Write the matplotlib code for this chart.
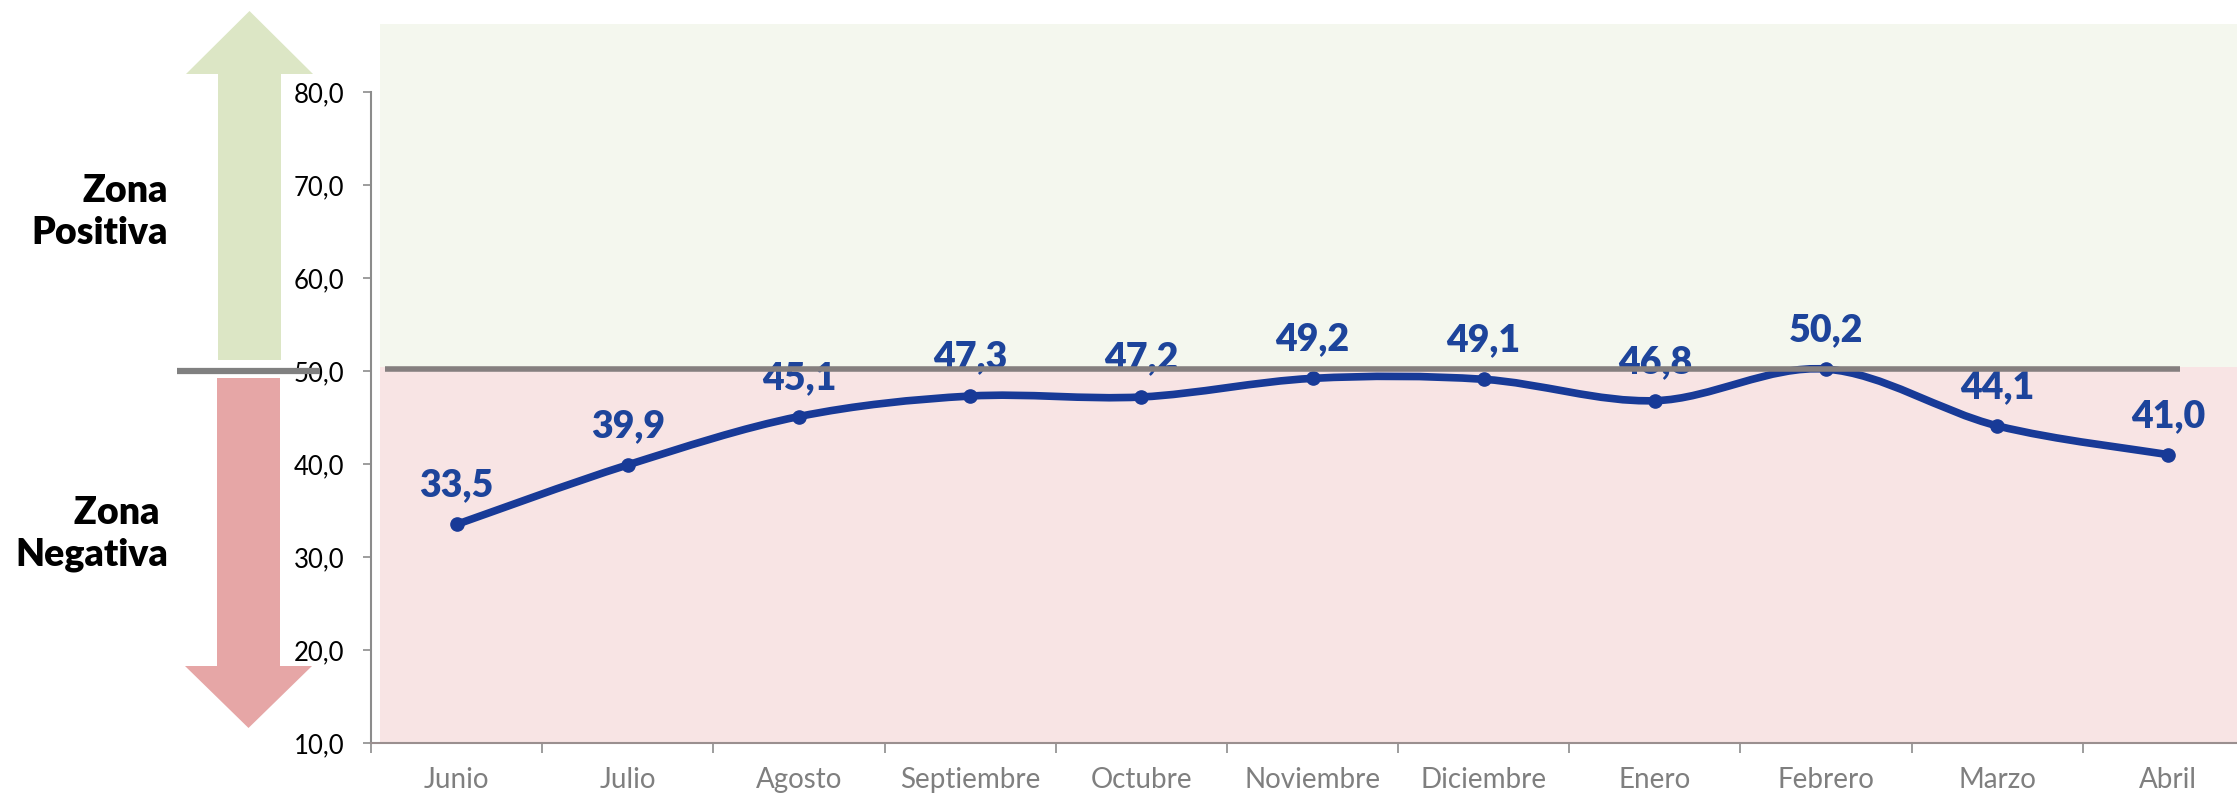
import numpy as np
import matplotlib
matplotlib.use("Agg")
import matplotlib.pyplot as plt
from matplotlib.path import Path
from matplotlib.patches import PathPatch, Polygon, Rectangle

# monthly index values
months = ["Junio", "Julio", "Agosto", "Septiembre", "Octubre", "Noviembre",
          "Diciembre", "Enero", "Febrero", "Marzo", "Abril"]
values = [33.5, 39.9, 45.1, 47.3, 47.2, 49.2, 49.1, 46.8, 50.2, 44.1, 41.0]
y_ticks = [10, 20, 30, 40, 50, 60, 70, 80]
y_tick_labels = ["10,0", "20,0", "30,0", "40,0", "50,0", "60,0", "70,0", "80,0"]
threshold = 50.2

line_color = "#183a97"
label_color = "#1d449b"
green_bg = "#f4f7ee"
pink_bg = "#f8e4e4"
green_arrow = "#dce6c5"
red_arrow = "#e6a6a6"
grey_line = "#857f7f"

W, H = 2237, 795
fig = plt.figure(figsize=(W / 100, H / 100), dpi=100)
fig.patch.set_facecolor("white")

x0_px = 371
ax = fig.add_axes([x0_px / W, (H - 743) / H, (2254 - x0_px) / W, (743 - 24) / H])
ax.set_xlim(-0.5, 10.5)
ax.set_ylim(10, 87.3)
ax.set_facecolor("none")

# zone backgrounds
ax.add_patch(Rectangle((-0.447, 50.4), 11, 40, facecolor=green_bg, edgecolor="none", zorder=0))
ax.add_patch(Rectangle((-0.447, 10), 11, 40.4, facecolor=pink_bg, edgecolor="none", zorder=0))

# smoothed line (cubic Bezier segments through the points)
n = len(values)
pts = np.column_stack([np.arange(n), values]).astype(float)
verts = [pts[0]]
codes = [Path.MOVETO]
for i in range(n - 1):
    p0 = pts[max(i - 1, 0)]
    p1 = pts[i]
    p2 = pts[i + 1]
    p3 = pts[min(i + 2, n - 1)]
    verts += [p1 + (p2 - p0) / 6, p2 - (p3 - p1) / 6, p2]
    codes += [Path.CURVE4] * 3
ax.add_patch(PathPatch(Path(verts, codes), fill=False, edgecolor=line_color,
                       lw=5.5, capstyle="round", joinstyle="round", zorder=3))
ax.plot(range(n), values, "o", color=line_color, markersize=9.5, zorder=4)

for i, v in enumerate(values):
    ax.annotate(f"{v:.1f}".replace(".", ","), (i, v), xytext=(0, 20),
                textcoords="offset points", ha="center", va="baseline",
                fontsize=27, fontweight="heavy", color=label_color,
                family="Lato", zorder=5)

ax.plot([-0.42, 10.07], [threshold, threshold], color=grey_line, lw=4, zorder=6,
        solid_capstyle="butt")

# axes styling
for s in ["top", "right"]:
    ax.spines[s].set_visible(False)
ax.spines["left"].set_bounds(10, 80)
ax.spines["left"].set_color("#8c8c8c")
ax.spines["left"].set_linewidth(1.5)
ax.spines["bottom"].set_color("#9a8f8f")
ax.spines["bottom"].set_linewidth(1.5)

ax.set_yticks(y_ticks)
ax.set_yticklabels(y_tick_labels, family="Lato", fontsize=18.5, color="black")
ax.tick_params(axis="y", length=6, width=1.2, color="#8c8c8c", pad=13)

ax.set_xticks(np.arange(-0.5, n, 1.0))
ax.set_xticklabels([])
ax.tick_params(axis="x", which="major", length=7, width=1.2, color="#8c8c8c")
ax.set_xticks(np.arange(n), minor=True)
ax.set_xticklabels(months, minor=True, family="Lato", fontsize=20, color="#7f7f7f")
ax.tick_params(axis="x", which="minor", length=0, pad=17)

# overlay in pixel coordinates for the arrows and zone captions
ov = fig.add_axes([0, 0, 1, 1], zorder=10)
ov.set_xlim(0, W)
ov.set_ylim(H, 0)
ov.axis("off")
ov.patch.set_alpha(0)

up = [(218, 360), (218, 74), (186, 74), (249.5, 11), (313, 74), (281, 74), (281, 360)]
down = [(217, 378), (217, 666), (185, 666), (248.5, 728), (312, 666), (280, 666), (280, 378)]
ov.add_patch(Polygon(up, closed=True, facecolor=green_arrow, edgecolor="none"))
ov.add_patch(Polygon(down, closed=True, facecolor=red_arrow, edgecolor="none"))
ov.plot([177, 320], [371, 371], color="#808080", lw=4.5, solid_capstyle="butt")

ov.text(168, 212, "Zona\nPositiva", ha="right", va="center", multialignment="right",
        fontsize=27, fontweight="heavy", family="Lato", linespacing=1.25, color="black")
ov.text(168, 534, "Zona \nNegativa", ha="right", va="center", multialignment="right",
        fontsize=27, fontweight="heavy", family="Lato", linespacing=1.25, color="black")

fig.savefig("out.png", dpi=100)
